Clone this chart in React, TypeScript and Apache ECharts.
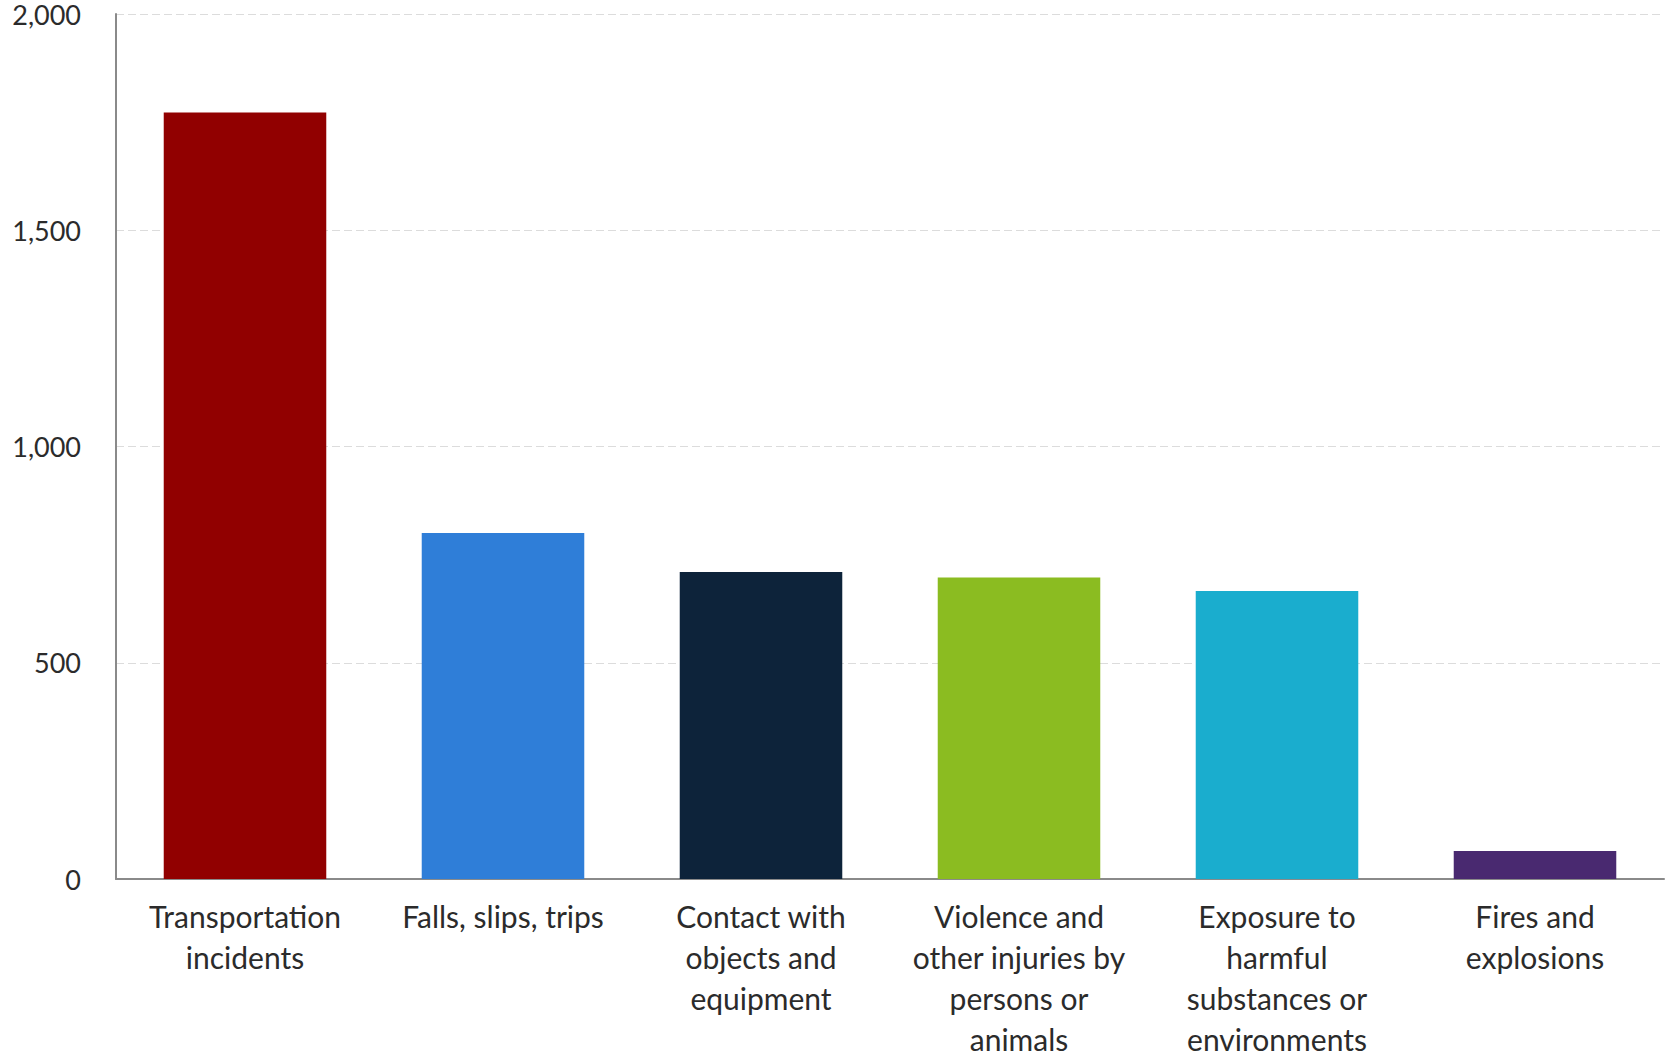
import React, { useEffect, useRef } from "react";
import * as echarts from "echarts";

// Fatal work injuries by event or exposure
const categories = [
  "Transportation\nincidents",
  "Falls, slips, trips",
  "Contact with\nobjects and\nequipment",
  "Violence and\nother injuries by\npersons or\nanimals",
  "Exposure to\nharmful\nsubstances or\nenvironments",
  "Fires and\nexplosions",
];
const values = [1772, 800, 710, 697, 666, 65];
const barColors = ["#910000", "#2f7ed8", "#0d233a", "#8bbc21", "#1aadce", "#492970"];
const yTicks = { min: 0, max: 2000, interval: 500 };

const FONT = "Lato, 'Open Sans', sans-serif";

export default function App() {
  const ref = useRef<HTMLDivElement>(null);

  useEffect(() => {
    document.body.style.margin = "0";
    if (!ref.current) return;
    const chart = echarts.init(ref.current, null, { renderer: "svg" });
    chart.setOption({
      animation: false,
      backgroundColor: "#ffffff",
      grid: {
        left: 116,
        top: 14,
        right: 1,
        bottom: 174,
        containLabel: false,
        outerBoundsMode: "none",
      },
      xAxis: {
        type: "category",
        data: categories,
        axisLine: { show: true, lineStyle: { color: "#8a8a8a", width: 2 } },
        axisTick: { show: false },
        axisLabel: {
          interval: 0,
          margin: 16,
          color: "#2b2b2b",
          fontFamily: FONT,
          fontSize: 30,
          lineHeight: 41,
          align: "center",
        },
      },
      yAxis: {
        type: "value",
        min: yTicks.min,
        max: yTicks.max,
        interval: yTicks.interval,
        axisLine: { show: true, lineStyle: { color: "#8a8a8a", width: 2 } },
        axisTick: { show: false },
        splitLine: { show: true, lineStyle: { color: "#dcdcdc", type: [8, 4], width: 1 } },
        axisLabel: {
          margin: 35,
          color: "#2b2b2b",
          fontFamily: FONT,
          fontSize: 27,
          formatter: (v: number) => v.toLocaleString("en-US"),
        },
      },
      series: [
        {
          type: "bar",
          barWidth: "63%",
          data: values.map((v, i) => ({ value: v, itemStyle: { color: barColors[i] } })),
        },
      ],
    });
    return () => chart.dispose();
  }, []);

  return <div ref={ref} style={{ width: 1665, height: 1053 }} />;
}
